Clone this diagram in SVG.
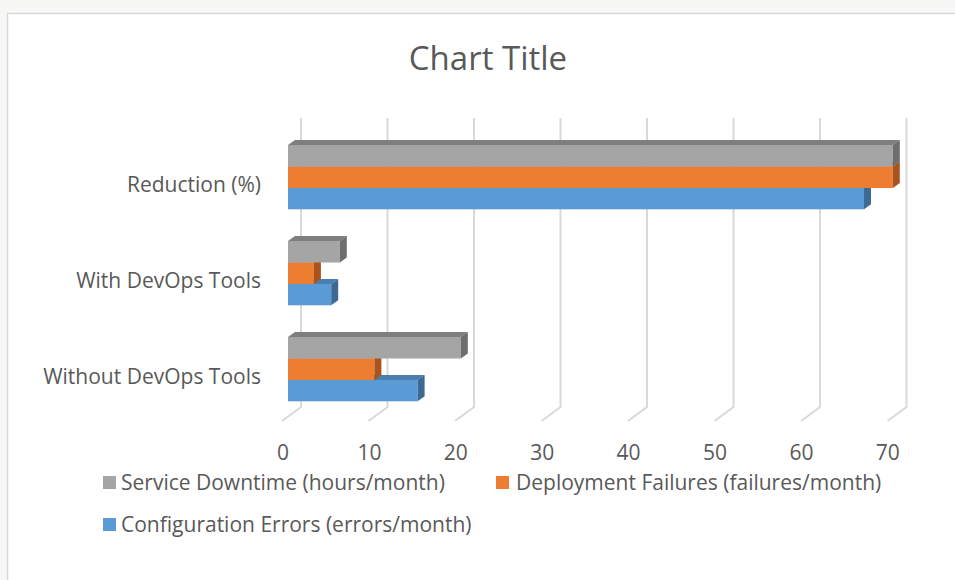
<svg xmlns="http://www.w3.org/2000/svg" width="955" height="580" viewBox="0 0 955 580">
<style>
.t{font-family:"Open Sans","Noto Sans","Liberation Sans",sans-serif;fill:#595959}
.cat{font-size:21px;text-anchor:end}
.ax{font-size:21px;text-anchor:middle}
.lg{font-size:21px}
.grid{fill:none;stroke:#D9D9D9;stroke-width:2}
.gF{fill:#A5A5A5}.gT{fill:#7F7F7F}.gR{fill:#6E6E6E}
.oF{fill:#ED7D31}.oT{fill:#C0652A}.oR{fill:#A9541F}
.bF{fill:#5B9BD5}.bT{fill:#4A7EAE}.bR{fill:#3C6A94}
</style>
<rect x="0" y="0" width="955" height="580" fill="#FFFFFF"/>
<rect x="0" y="0" width="955" height="13" fill="#F7F8F5"/>
<rect x="0" y="0" width="7" height="580" fill="#F7F8F5"/>
<path d="M7.5 580 V13.5 H955" fill="none" stroke="#D9D9D9" stroke-width="1.5"/>
<g id="title"><text class="t" x="488" y="70" font-size="33" text-anchor="middle">Chart Title</text></g>
<g id="gridlines">
<polyline class="grid" points="301,118 301,407 282,421"/>
<polyline class="grid" points="387.5,118 387.5,407 368.5,421"/>
<polyline class="grid" points="474,118 474,407 455,421"/>
<polyline class="grid" points="560.5,118 560.5,407 541.5,421"/>
<polyline class="grid" points="647,118 647,407 628,421"/>
<polyline class="grid" points="733.5,118 733.5,407 714.5,421"/>
<polyline class="grid" points="820,118 820,407 801,421"/>
<polyline class="grid" points="906.5,118 906.5,407 887.5,421"/>
</g>
<g id="axis-labels">
<text class="t ax" x="283" y="459.5">0</text>
<text class="t ax" x="369.4" y="459.5">10</text>
<text class="t ax" x="455.8" y="459.5">20</text>
<text class="t ax" x="542.2" y="459.5">30</text>
<text class="t ax" x="628.6" y="459.5">40</text>
<text class="t ax" x="715" y="459.5">50</text>
<text class="t ax" x="801.4" y="459.5">60</text>
<text class="t ax" x="887.8" y="459.5">70</text>
</g>
<g id="category-labels">
<text class="t cat" x="261" y="191.5">Reduction (%)</text>
<text class="t cat" x="261" y="287.5">With DevOps Tools</text>
<text class="t cat" x="261" y="383.5">Without DevOps Tools</text>
</g>
<g id="reduction">
<rect class="bF" x="288" y="188" width="576" height="21.3"/>
<polygon class="bT" points="288,188 864,188 871,183 295,183"/>
<polygon class="bR" points="864,188 871,183 871,204.3 864,209.3"/>
<rect class="oF" x="288" y="166.5" width="604.8" height="21.5"/>
<polygon class="oT" points="288,166.5 892.8,166.5 899.8,161.5 295,161.5"/>
<polygon class="oR" points="892.8,166.5 899.8,161.5 899.8,183 892.8,188"/>
<rect class="gF" x="288" y="145" width="604.8" height="21.5"/>
<polygon class="gT" points="288,145 892.8,145 899.8,140 295,140"/>
<polygon class="gR" points="892.8,145 899.8,140 899.8,161.5 892.8,166.5"/>
</g>
<g id="with-devops">
<rect class="bF" x="288" y="284" width="43.2" height="21.3"/>
<polygon class="bT" points="288,284 331.2,284 338.2,279 295,279"/>
<polygon class="bR" points="331.2,284 338.2,279 338.2,300.3 331.2,305.3"/>
<rect class="oF" x="288" y="262.5" width="25.9" height="21.5"/>
<polygon class="oT" points="288,262.5 313.9,262.5 320.9,257.5 295,257.5"/>
<polygon class="oR" points="313.9,262.5 320.9,257.5 320.9,279 313.9,284"/>
<rect class="gF" x="288" y="241" width="51.8" height="21.5"/>
<polygon class="gT" points="288,241 339.8,241 346.8,236 295,236"/>
<polygon class="gR" points="339.8,241 346.8,236 346.8,257.5 339.8,262.5"/>
</g>
<g id="without-devops">
<rect class="bF" x="288" y="380" width="129.6" height="21.3"/>
<polygon class="bT" points="288,380 417.6,380 424.6,375 295,375"/>
<polygon class="bR" points="417.6,380 424.6,375 424.6,396.3 417.6,401.3"/>
<rect class="oF" x="288" y="358.5" width="86.4" height="21.5"/>
<polygon class="oT" points="288,358.5 374.4,358.5 381.4,353.5 295,353.5"/>
<polygon class="oR" points="374.4,358.5 381.4,353.5 381.4,375 374.4,380"/>
<rect class="gF" x="288" y="337" width="172.8" height="21.5"/>
<polygon class="gT" points="288,337 460.8,337 467.8,332 295,332"/>
<polygon class="gR" points="460.8,337 467.8,332 467.8,353.5 460.8,358.5"/>
</g>
<g id="legend">
<rect x="103" y="476" width="13" height="13" fill="#A5A5A5"/>
<text class="t lg" x="121" y="489.5">Service Downtime (hours/month)</text>
<rect x="496" y="476" width="13" height="13" fill="#ED7D31"/>
<text class="t lg" x="516" y="489.5">Deployment Failures (failures/month)</text>
<rect x="103" y="518" width="13" height="13" fill="#5B9BD5"/>
<text class="t lg" x="121" y="531.5">Configuration Errors (errors/month)</text>
</g>
</svg>
